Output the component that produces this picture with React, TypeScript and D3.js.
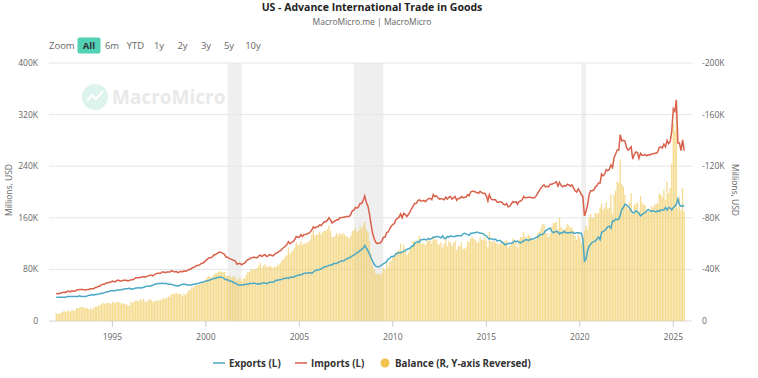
import React from "react";
import * as d3 from "d3";

// ---- Data (values in thousands of millions USD, i.e. "K") ----
const START_YEAR = 1992; // first month: Jan 1992, monthly through Aug 2025

const exportsK = [
  37,37,37,37,37,37,37,38,38,38,38,38,
  38,38,38,39,38,38,38,38,39,40,40,41,
  40,41,41,42,42,43,43,44,45,45,46,47,
  47,47,47,48,48,48,49,49,50,50,50,51,
  49,50,50,51,51,52,51,52,52,53,54,54,
  54,55,55,57,57,58,58,58,59,58,58,58,
  57,57,57,56,55,55,54,55,56,57,57,57,
  56,56,56,56,57,57,58,58,59,60,60,61,
  62,62,63,64,65,66,66,67,68,68,68,67,
  65,64,64,62,62,61,59,59,57,56,56,56,
  56,57,57,57,58,58,58,59,58,57,58,57,
  59,59,59,58,59,60,60,60,61,63,63,64,
  64,65,66,66,67,66,68,68,68,69,70,71,
  71,72,72,74,74,74,75,75,74,76,78,79,
  79,80,81,82,84,84,85,86,87,87,89,89,
  89,91,92,93,93,94,96,97,98,99,101,102,
  104,106,107,109,111,113,117,113,109,104,98,93,
  88,85,84,84,85,87,89,90,92,96,97,100,
  100,101,104,105,106,106,107,108,109,111,112,113,
  116,116,120,122,123,122,126,126,127,126,126,128,
  127,128,130,130,131,131,130,129,132,128,128,131,
  130,132,131,131,131,132,132,132,132,135,136,135,
  134,133,136,136,137,137,138,137,136,136,135,133,
  132,129,127,128,127,126,127,124,125,125,122,121,
  118,119,120,120,121,121,124,123,124,122,121,123,
  124,126,126,125,126,127,127,128,130,130,133,134,
  134,136,140,141,143,144,139,137,138,139,138,135,
  137,137,139,137,137,137,137,138,136,136,137,137,
  136,136,127,93,96,109,116,119,122,123,124,127,
  130,126,137,139,140,143,146,147,144,155,155,158,
  157,158,164,173,176,181,180,178,175,171,168,168,
  171,169,167,163,165,167,168,171,173,171,170,171,
  170,169,171,170,172,172,172,176,172,176,175,172,
  176,178,181,189,180,178,178,179,
];

const importsK = [
  43,42,43,43,44,45,44,46,46,45,47,46,
  46,48,48,49,49,49,48,48,49,49,50,50,
  50,52,52,54,54,56,57,57,59,59,60,60,
  62,61,61,63,63,62,62,63,63,63,62,63,
  64,64,65,67,67,67,68,68,69,68,69,70,
  71,71,70,72,73,74,74,74,76,76,75,76,
  76,76,78,77,76,77,75,76,77,76,78,77,
  78,80,80,82,83,84,86,86,87,89,90,91,
  94,96,98,98,99,102,103,104,106,107,106,105,
  103,99,99,97,96,95,94,93,88,89,89,87,
  89,90,93,95,96,98,98,99,98,98,101,102,
  100,102,103,100,101,103,102,101,103,105,106,108,
  109,112,114,116,118,123,120,122,123,126,131,130,
  130,134,131,134,134,135,136,138,141,146,144,146,
  146,149,148,151,154,154,156,160,157,152,154,155,
  157,157,160,160,161,161,162,162,162,165,171,172,
  176,175,177,182,182,187,194,184,178,166,150,136,
  128,122,120,121,121,124,130,130,137,138,143,147,
  150,151,157,159,161,166,160,167,165,162,165,169,
  174,178,182,182,186,188,186,186,187,185,188,190,
  190,188,196,193,194,191,189,190,189,188,192,189,
  192,193,189,191,193,187,190,190,193,191,192,192,
  196,194,200,201,201,200,199,198,201,199,198,198,
  194,186,196,190,188,188,188,184,184,185,184,181,
  180,182,177,178,181,185,184,185,181,185,186,188,
  193,191,191,192,192,191,191,191,194,198,202,206,
  209,211,208,209,208,212,212,213,214,216,209,215,
  210,208,210,209,212,211,209,211,206,202,200,205,
  201,196,193,163,170,180,196,202,202,203,208,210,
  214,214,228,225,228,235,233,235,242,238,253,259,
  265,265,289,279,280,279,269,265,267,270,251,258,
  262,261,252,260,257,257,258,256,258,257,259,259,
  260,260,262,269,270,268,274,270,280,275,278,294,
  329,325,343,276,276,264,281,264,
];

const balanceK = [
  -6,-5,-6,-6,-7,-8,-7,-8,-8,-7,-9,-8,
  -8,-10,-10,-10,-11,-11,-10,-10,-10,-9,-10,-9,
  -10,-11,-11,-12,-12,-13,-14,-13,-14,-14,-14,-13,
  -15,-14,-14,-15,-15,-14,-13,-14,-13,-13,-12,-12,
  -15,-14,-15,-16,-16,-15,-17,-16,-17,-15,-15,-16,
  -17,-16,-15,-15,-16,-16,-16,-16,-17,-18,-17,-18,
  -19,-19,-21,-21,-21,-22,-21,-21,-21,-19,-21,-20,
  -22,-24,-24,-26,-26,-27,-28,-28,-28,-29,-30,-30,
  -32,-34,-35,-34,-34,-36,-37,-37,-38,-39,-38,-38,
  -38,-35,-35,-35,-34,-34,-35,-34,-31,-33,-33,-31,
  -33,-33,-36,-38,-38,-40,-40,-40,-40,-41,-43,-45,
  -41,-43,-44,-42,-42,-43,-42,-41,-42,-42,-43,-44,
  -45,-47,-48,-50,-51,-57,-52,-54,-55,-57,-61,-59,
  -59,-62,-59,-60,-60,-61,-61,-63,-67,-70,-66,-67,
  -67,-69,-67,-69,-70,-70,-71,-74,-70,-65,-65,-66,
  -68,-66,-68,-67,-68,-67,-66,-65,-64,-66,-70,-70,
  -72,-69,-70,-73,-71,-74,-77,-71,-69,-62,-52,-43,
  -40,-37,-36,-37,-36,-37,-41,-40,-45,-42,-46,-47,
  -50,-50,-53,-54,-55,-60,-53,-59,-56,-51,-53,-56,
  -58,-62,-62,-60,-63,-66,-60,-60,-60,-59,-62,-62,
  -63,-60,-66,-63,-63,-60,-59,-61,-57,-60,-64,-58,
  -62,-61,-58,-60,-62,-55,-58,-58,-61,-56,-56,-57,
  -62,-61,-64,-65,-64,-63,-61,-61,-65,-63,-63,-65,
  -62,-57,-69,-62,-61,-62,-61,-60,-59,-60,-62,-60,
  -62,-63,-57,-58,-60,-64,-60,-62,-57,-63,-65,-65,
  -69,-65,-65,-67,-66,-64,-64,-63,-64,-68,-69,-72,
  -75,-75,-68,-68,-65,-68,-73,-76,-76,-77,-71,-80,
  -73,-71,-71,-72,-75,-74,-72,-73,-70,-66,-63,-68,
  -65,-60,-66,-70,-74,-71,-80,-83,-80,-80,-84,-83,
  -84,-88,-91,-86,-88,-92,-87,-88,-98,-83,-98,-101,
  -108,-107,-125,-106,-104,-98,-89,-87,-92,-99,-83,-90,
  -91,-92,-85,-97,-92,-90,-90,-85,-85,-86,-89,-88,
  -90,-91,-91,-99,-98,-96,-102,-94,-108,-99,-103,-122,
  -153,-147,-162,-87,-96,-86,-103,-85,
];

const leftTicks = [0, 80, 160, 240, 320, 400];
const rightTicks = [0, -40, -80, -120, -160, -200];
const xTickYears = [1995, 2000, 2005, 2010, 2015, 2020, 2025];
const recessions: [string, string][] = [
  ["2001-03-01", "2001-11-30"],
  ["2007-12-01", "2009-06-30"],
  ["2020-02-01", "2020-04-30"],
];
const zoomLabels = ["6m", "YTD", "1y", "2y", "3y", "5y", "10y"];

const TITLE = "US - Advance International Trade in Goods";
const SUBTITLE = "MacroMicro.me | MacroMicro";

// ---- Layout ----
const W = 758, H = 378;
const PL = 49, PR = 692, PT = 63, PB = 321;
const FONT = "'Open Sans', 'Noto Sans', sans-serif";
const C_EXP = "#4ca9c6";
const C_IMP = "#d9614b";
const C_BAL = "#f1cf6a";

function parseDate(s: string) {
  const [y, m, d] = s.split("-").map(Number);
  return new Date(y, m - 1, d);
}

export default function App() {
  const dates = exportsK.map((_, i) => new Date(START_YEAR + Math.floor(i / 12), i % 12, 1));
  const x = d3.scaleTime().domain([new Date(1991, 7, 12), new Date(2026, 0, 1)]).range([PL, PR]);
  const yL = d3.scaleLinear().domain([0, 400]).range([PB, PT]);
  const yR = d3.scaleLinear().domain([0, -200]).range([PB, PT]);

  const lineL = d3.line<number>().x((_, i) => x(dates[i])).y((v) => yL(v));
  const fmtK = (v: number) => (v === 0 ? "0" : `${v}K`);
  const bw = 1.3;
  const zoomX = [112, 135.5, 159, 182.5, 206, 229, 253];

  return (
    <svg width={W} height={H} style={{ position: "absolute", left: 0, top: 0, fontFamily: FONT }}>
      <rect width={W} height={H} fill="#fff" />
      {/* title */}
      <text x={372} y={10.5} textAnchor="middle" fontSize={10.5} fontWeight="bold" fill="#222">{TITLE}</text>
      <text x={372} y={25} textAnchor="middle" fontSize={8.5} fill="#666">{SUBTITLE}</text>
      {/* zoom buttons */}
      <text x={49} y={48.5} fontSize={9.5} fill="#666">Zoom</text>
      <rect x={77.5} y={37.5} width={23} height={16} rx={2} fill="#52d1b4" />
      <text x={89} y={48.5} textAnchor="middle" fontSize={9.5} fontWeight="bold" fill="#333">All</text>
      {zoomLabels.map((z, i) => (
        <text key={z} x={zoomX[i]} y={48.5} textAnchor="middle" fontSize={9.5} fill="#666">{z}</text>
      ))}
      {/* watermark */}
      <g opacity={0.45}>
        <circle cx={95} cy={97} r={13} fill="#b5e6da" />
        <path d="M87,101 L92,95 L96,99 L103,91" stroke="#fff" strokeWidth={2} fill="none" />
        <text x={112} y={104} fontSize={19} fontWeight="bold" fill="#d0d0d0">MacroMicro</text>
      </g>
      {/* recession bands */}
      {recessions.map(([a, b]) => (
        <rect key={a} x={x(parseDate(a))} y={PT} width={x(parseDate(b)) - x(parseDate(a))} height={PB - PT} fill="#efefef" />
      ))}
      {/* grid */}
      {leftTicks.map((t) => (
        <line key={t} x1={PL} x2={PR} y1={yL(t)} y2={yL(t)} stroke={t === 0 ? "#d8d8d8" : "#e6e6e6"} strokeWidth={1} />
      ))}
      {/* bars */}
      {balanceK.map((v, i) => (
        <rect key={i} x={x(dates[i]) - bw / 2} y={yR(v)} width={bw} height={PB - yR(v)} fill={C_BAL} opacity={0.75} />
      ))}
      {/* lines */}
      <path d={lineL(importsK) || ""} fill="none" stroke={C_IMP} strokeWidth={1.5} />
      <path d={lineL(exportsK) || ""} fill="none" stroke={C_EXP} strokeWidth={1.5} />
      {/* x axis */}
      {xTickYears.map((yr) => {
        const xx = x(new Date(yr, 0, 1));
        return (
          <g key={yr}>
            <line x1={xx} x2={xx} y1={PB} y2={PB + 6} stroke="#ccc" />
            <text x={xx} y={340} textAnchor="middle" fontSize={8.5} fill="#666">{yr}</text>
          </g>
        );
      })}
      {/* left axis */}
      {leftTicks.map((t) => (
        <text key={t} x={38} y={yL(t) + 3} textAnchor="end" fontSize={8.5} fill="#666">{fmtK(t)}</text>
      ))}
      <text transform={`translate(12,190) rotate(-90)`} textAnchor="middle" fontSize={8.5} fill="#666">Millions, USD</text>
      {/* right axis */}
      {rightTicks.map((t) => (
        <text key={t} x={702} y={yR(t) + 3} textAnchor="start" fontSize={8.5} fill="#666">{fmtK(t)}</text>
      ))}
      <text transform={`translate(732,190) rotate(90)`} textAnchor="middle" fontSize={8.5} fill="#666">Millions, USD</text>
      {/* legend */}
      <line x1={213} x2={225} y1={363} y2={363} stroke={C_EXP} strokeWidth={1.5} />
      <text x={229} y={366.5} fontSize={9.8} fontWeight="bold" fill="#333">Exports (L)</text>
      <line x1={295} x2={307} y1={363} y2={363} stroke={C_IMP} strokeWidth={1.5} />
      <text x={311} y={366.5} fontSize={9.8} fontWeight="bold" fill="#333">Imports (L)</text>
      <circle cx={385} cy={363} r={4.5} fill="#f2c14e" />
      <text x={395} y={366.5} fontSize={9.8} fontWeight="bold" fill="#333">Balance (R, Y-axis Reversed)</text>
    </svg>
  );
}
